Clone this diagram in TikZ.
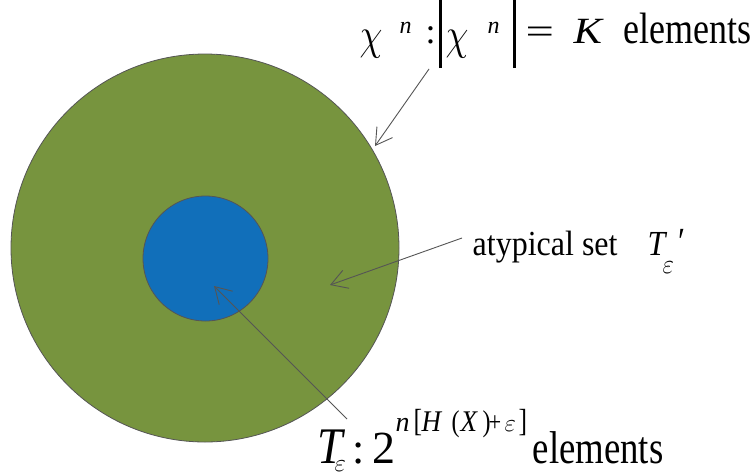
\documentclass[tikz,border=0pt]{standalone}
\usepackage{fontspec}
\setmainfont{Liberation Serif}
\usetikzlibrary{arrows.meta}
\definecolor{olivegreen}{RGB}{119,148,62}
\definecolor{setblue}{RGB}{17,111,186}
\definecolor{linegray}{RGB}{85,85,85}
\tikzset{
  setcircle/.style={draw=linegray, line width=0.8pt},
  pointer/.style={draw=linegray, line width=0.9pt, -{Straight Barb[length=16pt,width=19pt,line width=0.9pt]}},
  lbl/.style={inner sep=0pt, anchor=base west},
}
% place a piece at horizontal offset #1 (pt) from the label origin, raised by #2 (pt)
\newcommand{\piece}[3]{\makebox[0pt][l]{\hspace{#1pt}\raisebox{#2pt}{#3}}}
\newcommand{\fs}[1]{\fontsize{#1}{#1}\selectfont}
\newcommand{\tallbar}{\rule[-25pt]{3pt}{68pt}}
\newcommand{\bigchi}{\scalebox{1.5}[1.8]{\fs{38}$\chi$}}
\begin{document}
\begin{tikzpicture}[x=1pt,y=-1pt]
\useasboundingbox (0,0) rectangle (752,472);
\fill[white] (0,0) rectangle (752,472);
% sets
\path[setcircle, fill=olivegreen] (205,248) circle[radius=194];
\node[setcircle, fill=setblue, circle, minimum size=125pt, inner sep=0pt] (small) at (205.5,258.5) {};
% top label
\node[lbl] (top) at (362,43) {%
  \piece{-3}{-6}{\bigchi}%
  \piece{37}{10}{\fs{24}\itshape n}%
  \piece{63}{0}{\fs{36}:}%
  \piece{76}{0}{\tallbar}%
  \piece{83}{-6}{\bigchi}%
  \piece{125}{10}{\fs{24}\itshape n}%
  \piece{150}{0}{\tallbar}%
  \piece{163}{0}{\scalebox{1.4}[1]{\fs{36}=}}%
  \piece{211}{0}{\scalebox{1.15}[1]{\fs{37}\itshape K}}%
  \piece{261}{0}{\scalebox{1}[1.22]{\fs{36}elements}}};
% atypical label
\node[lbl] (atyp) at (472,255) {%
  \piece{0}{0}{\scalebox{1}[1.1]{\fs{32}atypical set}}%
  \piece{175}{0}{\scalebox{1}[1.1]{\fs{32}\itshape T}}%
  \piece{190}{-18}{\scalebox{1}[1.1]{\fs{26}$\varepsilon$}}%
  \piece{206}{1}{\scalebox{1}[1.2]{\fs{32}′}}};
% bottom label
\node[lbl] (bot) at (317,463) {%
  \piece{0}{0}{\scalebox{1.2}[1.35]{\fs{38}\itshape T}}%
  \piece{17}{-8}{\fs{30}$\varepsilon$}%
  \piece{35}{0}{\fs{44}:}%
  \piece{55}{0}{\fs{46}2}%
  \piece{78}{32}{\fs{28}\itshape n}%
  \piece{96}{32}{\scalebox{0.8}[1]{\fs{32}[}}%
  \piece{104}{32}{\scalebox{0.9}[1]{\fs{30}\itshape H}}%
  \piece{134}{32}{\scalebox{0.8}[1]{\fs{30}(}}%
  \piece{143}{32}{\scalebox{0.9}[1]{\fs{30}\itshape X}}%
  \piece{165}{32}{\scalebox{0.8}[1]{\fs{30})}}%
  \piece{171}{32}{\scalebox{0.8}[1]{\fs{28}+}}%
  \piece{187}{32}{\fs{26}$\varepsilon$}%
  \piece{201}{32}{\scalebox{0.8}[1]{\fs{32}]}}%
  \piece{215}{0}{\scalebox{0.8}[1]{\fs{46}elements}}};
% arrow endpoints
\coordinate (t1) at (429,69);
\coordinate (h1) at (375,146);
\coordinate (t2) at (462,238);
\coordinate (h2) at (330,285);
\coordinate (t3) at (347,419);
\coordinate (h3) at (214,286);
\draw[pointer] (t1) -- (h1);
\draw[pointer] (t2) -- (h2);
\draw[pointer] (t3) -- (h3);
\end{tikzpicture}
\end{document}
